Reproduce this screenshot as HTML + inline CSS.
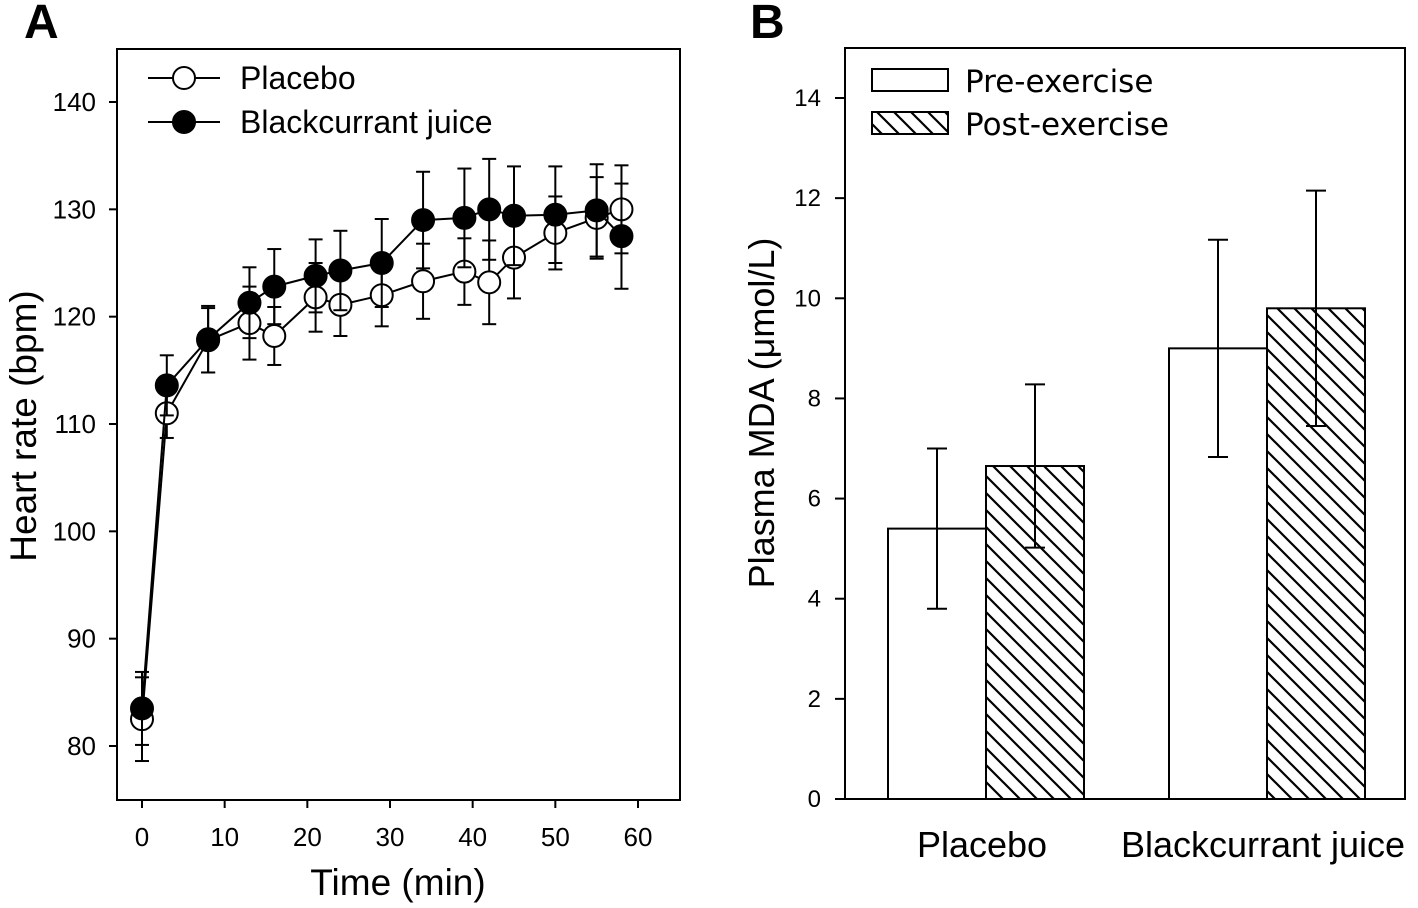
<!DOCTYPE html>
<html><head><meta charset="utf-8"><style>
body{margin:0;background:#fff}
svg text{font-family:"Liberation Sans",Arial,sans-serif;fill:#000}
</style></head><body>
<svg id="fig" width="1418" height="903" viewBox="0 0 1418 903">
<defs>
<pattern id="hatch" patternUnits="userSpaceOnUse" width="17" height="17">
<rect width="17" height="17" fill="#fff"/>
<path d="M-4,-4 L21,21 M-4,13 L4,21 M13,-4 L21,4" stroke="#000" stroke-width="2.2"/>
</pattern>
</defs>
<text x="24" y="38" font-size="48" font-weight="bold">A</text>
<text x="750" y="38" font-size="48" font-weight="bold">B</text>
<g id="A"></g>
<g id="B"></g>
</svg>
<script>
const times=[0,3,8,13,16,21,24,29,34,39,42,45,50,55,58];
const placebo=[82.5,111,117.8,119.4,118.2,121.8,121.1,122,123.3,124.2,123.2,125.5,127.8,129.2,130];
const placeboErr=[3.9,2.3,3,3.4,2.7,3.2,2.9,2.9,3.5,3.1,3.9,3.8,3.4,3.8,4.1];
const bjuice=[83.5,113.6,117.9,121.3,122.8,123.8,124.3,125,129,129.2,130,129.4,129.5,129.9,127.5];
const bjuiceErr=[3.4,2.8,3.1,3.3,3.5,3.4,3.7,4.1,4.5,4.6,4.7,4.6,4.5,4.3,4.9];
const yTicksA=[80,90,100,110,120,130,140];
const xTicksA=[0,10,20,30,40,50,60];

const groups=["Placebo","Blackcurrant juice"];
const preVals=[5.4,9.0];
const preErr=[1.6,2.17];
const postVals=[6.65,9.8];
const postErr=[1.63,2.35];
const yTicksB=[0,2,4,6,8,10,12,14];

const NS="http://www.w3.org/2000/svg";
function mk(p,tag,attrs,txt){const e=document.createElementNS(NS,tag);for(const k in attrs)e.setAttribute(k,attrs[k]);if(txt!==undefined)e.textContent=txt;p.appendChild(e);return e;}

// Panel A
const A=document.getElementById('A');
const ax={l:117,r:680,t:49,b:800};
const xA=v=>142+(v-0)*(638-142)/60;
const yA=v=>746-(v-80)*(746-102)/60;
let e=mk(A,'rect',{x:ax.l,y:ax.t,width:ax.r-ax.l,height:ax.b-ax.t,fill:'none',stroke:'#000','stroke-width':2});

yTicksA.forEach(v=>{mk(A,'line',{x1:ax.l-8,x2:ax.l,y1:yA(v),y2:yA(v),stroke:'#000','stroke-width':2});
 e=mk(A,'text',{x:ax.l-21,y:yA(v)+9,'font-size':26,'text-anchor':'end'},v);
 });
xTicksA.forEach(v=>{mk(A,'line',{x1:xA(v),x2:xA(v),y1:ax.b,y2:ax.b+8,stroke:'#000','stroke-width':2});
 e=mk(A,'text',{x:xA(v),y:ax.b+46,'font-size':26,'text-anchor':'middle'},v);
 });
e=mk(A,'text',{x:398,y:895,'font-size':37,'text-anchor':'middle'},'Time (min)');

e=mk(A,'text',{x:0,y:0,'font-size':37,'text-anchor':'middle',transform:'translate(36,426) rotate(-90)'},'Heart rate (bpm)');

function series(vals,errs,name){
 const g=mk(A,'g',{});
 mk(g,'polyline',{points:times.map((t,i)=>xA(t)+','+yA(vals[i])).join(' '),fill:'none',stroke:'#000','stroke-width':2});
 times.forEach((t,i)=>{const x=xA(t);
  mk(g,'line',{x1:x,x2:x,y1:yA(vals[i]-errs[i]),y2:yA(vals[i]+errs[i]),stroke:'#000','stroke-width':2});
  [vals[i]-errs[i],vals[i]+errs[i]].forEach(v=>mk(g,'line',{x1:x-7,x2:x+7,y1:yA(v),y2:yA(v),stroke:'#000','stroke-width':2}));});
 return g;}
function markers(g,vals,fill){times.forEach((t,i)=>{const c=mk(g,'circle',{cx:xA(t),cy:yA(vals[i]),r:11,fill:fill,stroke:'#000','stroke-width':2});
 });}
const gp=series(placebo,placeboErr,'placebo');
const gb=series(bjuice,bjuiceErr,'blackcurrant');
markers(gp,placebo,'#fff');markers(gb,bjuice,'#000');
[['Placebo','#fff',78],['Blackcurrant juice','#000',122]].forEach(([t,f,y])=>{
 const g=mk(A,'g',{});
 mk(g,'line',{x1:148,x2:220,y1:y,y2:y,stroke:'#000','stroke-width':2});
 mk(g,'circle',{cx:184,cy:y,r:11,fill:f,stroke:'#000','stroke-width':2});
 mk(g,'text',{x:240,y:y+11,'font-size':32},t);});

// Panel B
const B=document.getElementById('B');
const bx={l:845,r:1405,t:48,b:799};
const yB=v=>799-v*(799-98)/14;
const gx=[888,1169], bw=98;
e=mk(B,'rect',{x:bx.l,y:bx.t,width:bx.r-bx.l,height:bx.b-bx.t,fill:'none',stroke:'#000','stroke-width':2});

yTicksB.forEach(v=>{mk(B,'line',{x1:bx.l-10,x2:bx.l,y1:yB(v),y2:yB(v),stroke:'#000','stroke-width':2});
 e=mk(B,'text',{x:bx.l-24,y:yB(v)+8,'font-size':24,'text-anchor':'end'},v);
 });
groups.forEach((gname,i)=>{
 const x0=gx[i];
 [[preVals[i],preErr[i],'#fff',x0,'pre'],[postVals[i],postErr[i],'url(#hatch)',x0+bw,'post']].forEach(([v,er,f,x,k])=>{
  const r=mk(B,'rect',{x:x,y:yB(v),width:bw,height:yB(0)-yB(v),fill:f,stroke:'#000','stroke-width':2});
  
  const cx=x+bw/2;
  mk(B,'line',{x1:cx,x2:cx,y1:yB(v-er),y2:yB(v+er),stroke:'#000','stroke-width':2});
  [v-er,v+er].forEach(w=>mk(B,'line',{x1:cx-10,x2:cx+10,y1:yB(w),y2:yB(w),stroke:'#000','stroke-width':2}));
 });
 e=mk(B,'text',{x:x0+bw-4,y:857,'font-size':36,'text-anchor':'middle'},gname);
 
});
e=mk(B,'text',{x:0,y:0,'font-size':36,'text-anchor':'middle',transform:'translate(774,413) rotate(-90)'},'Plasma MDA (μmol/L)');

[['Pre-exercise','#fff',69],['Post-exercise','url(#hatch)',112]].forEach(([t,f,y])=>{
 const g=mk(B,'g',{});
 mk(g,'rect',{x:872,y:y,width:76,height:22,fill:f,stroke:'#000','stroke-width':2});
 mk(g,'text',{x:965,y:y+23,'font-size':31,style:'font-family:"DejaVu Sans",sans-serif'},t);});
</script>
</body></html>
